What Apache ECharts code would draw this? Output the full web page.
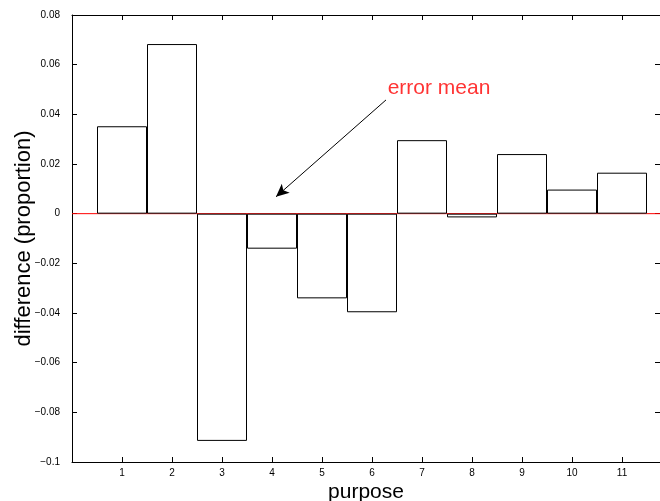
<!DOCTYPE html>
<html>
<head>
<meta charset="utf-8">
<script src="https://cdn.jsdelivr.net/npm/echarts@6/dist/echarts.min.js"></script>
<style>html,body{margin:0;padding:0;background:#fff}#c{width:660px;height:501px}</style>
</head>
<body>
<div id="c"></div>
<script>
const purposes = [1,2,3,4,5,6,7,8,9,10,11];
const differences = [0.0352,0.0683,-0.0915,-0.0141,-0.0341,-0.0397,0.0296,-0.0015,0.0240,0.0097,0.0165];
const yTicks = [-0.1,-0.08,-0.06,-0.04,-0.02,0,0.02,0.04,0.06,0.08];
const annotationText = 'error mean';
const arrowFrom = [6.28, 0.0458];
const arrowTo = [4.08, 0.0068];
const annotationAt = [7.34, 0.0506];
const xMax = 11.76;

const font = 'Liberation Sans, Arial, Helvetica, sans-serif';
function fmtY(v){
  if (Math.abs(v) < 1e-9) return '0';
  let s = Math.abs(v).toFixed(2);
  if (s.endsWith('0')) s = s.slice(0,-1);
  return (v<0?'\u2212':'') + s;
}
const chart = echarts.init(document.getElementById('c'), null, {renderer:'canvas'});
const axisLine = {show:true, onZero:false, lineStyle:{color:'#000', width:1}};
chart.setOption({
  animation:false,
  backgroundColor:'#fff',
  grid:{left:72, top:15, right:0, bottom:39, containLabel:false, outerBoundsMode:'none'},
  xAxis:[{
    type:'value', min:0, max:xMax, position:'bottom',
    axisLine:axisLine,
    axisTick:{show:true, inside:true, length:5, customValues:purposes, lineStyle:{color:'#000'}},
    axisLabel:{show:true, customValues:purposes, margin:6, fontSize:10, color:'#000', fontFamily:font},
    splitLine:{show:false},
    name:'purpose', nameLocation:'middle', nameGap:20, nameMoveOverlap:false,
    nameTextStyle:{fontSize:21, color:'#000', fontFamily:font}
  },{
    type:'value', min:0, max:xMax, position:'top',
    axisLine:axisLine,
    axisTick:{show:true, inside:true, length:5, customValues:purposes, lineStyle:{color:'#000'}},
    axisLabel:{show:false}, splitLine:{show:false}
  }],
  yAxis:[{
    type:'value', min:-0.1, max:0.08, interval:0.02, position:'left',
    axisLine:axisLine,
    axisTick:{show:true, inside:true, length:5, lineStyle:{color:'#000'}},
    axisLabel:{show:true, margin:12, fontSize:10, color:'#000', fontFamily:font, formatter:fmtY, customValues:yTicks},
    splitLine:{show:false},
    name:'difference (proportion)', nameLocation:'middle', nameGap:37, nameMoveOverlap:false,
    nameTextStyle:{fontSize:22, color:'#000', fontFamily:font}
  },{
    type:'value', min:-0.1, max:0.08, interval:0.02, position:'right',
    axisLine:axisLine,
    axisTick:{show:true, inside:true, length:5, lineStyle:{color:'#000'}},
    axisLabel:{show:false}, splitLine:{show:false}
  }],
  series:[{
    type:'line', xAxisIndex:0, yAxisIndex:0, z:1,
    data:[[0,0],[xMax,0]], symbol:'none',
    lineStyle:{color:'#ff0000', width:1}
  },{
    type:'bar', xAxisIndex:0, yAxisIndex:0, z:2,
    data:purposes.map((p,i)=>[p, differences[i]]),
    barWidth:50,
    itemStyle:{color:'#fff', borderColor:'#000', borderWidth:1}
  },{
    type:'scatter', xAxisIndex:0, yAxisIndex:0, z:3,
    data:[{value:annotationAt, label:{show:true, formatter:annotationText, position:'inside', color:'#ff0000', fontSize:21, fontFamily:font}}],
    symbolSize:0,
    markLine:{
      silent:true, symbol:['none','arrow'], symbolSize:[9,13],
      lineStyle:{color:'#000', width:1, type:'solid'},
      label:{show:false},
      data:[[{coord:arrowFrom},{coord:arrowTo}]]
    }
  }]
});
</script>
</body>
</html>
